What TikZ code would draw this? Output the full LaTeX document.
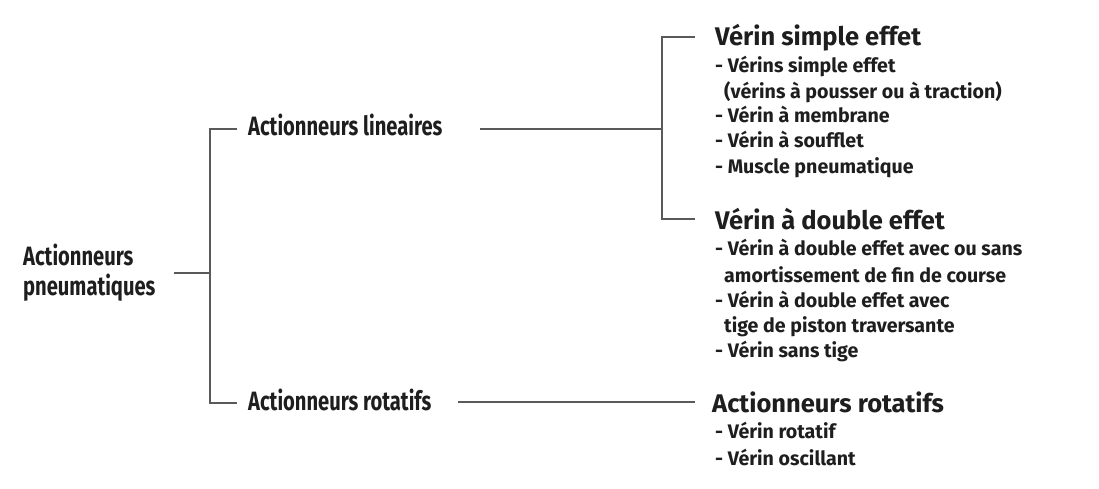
\documentclass[tikz,border=0pt]{standalone}
\usepackage{fontspec}
\setmainfont{Fira Sans}
\newfontfamily\condfont[FakeStretch=0.76]{Fira Sans}
\definecolor{ink}{HTML}{1E1E1E}
\definecolor{wirec}{HTML}{5A5A5A}
\begin{document}
\begin{tikzpicture}[x=1pt,y=-1pt,
  lvlone/.style={font=\condfont\bfseries\fontsize{26.5}{30}\selectfont, text=ink, inner sep=0pt},
  head/.style={font=\bfseries\fontsize{25.5}{30}\selectfont, text=ink, inner sep=0pt, anchor=base west},
  item/.style={font=\bfseries\fontsize{19.6}{25}\selectfont, text=ink, inner sep=0pt, anchor=base west},
  wire/.style={draw=wirec, line width=2pt}]
\fill[white] (0,0) rectangle (1099,488);
\useasboundingbox (0,0) rectangle (1099,488);

% level one
\node[lvlone, align=left, anchor=west] (pn) at (23,273) {Actionneurs\\pneumatiques};
\node[lvlone, anchor=base west] (al) at (248,135) {Actionneurs lineaires};
\node[lvlone, anchor=base west] (ar) at (248,410) {Actionneurs rotatifs};

% headings
\node[head] (hs) at (715,45) {Vérin simple effet};
\node[head] (hd) at (715,229) {Vérin à double effet};
\node[head] (hr) at (712,412) {Actionneurs rotatifs};

% items simple
\node[item] (s1) at (715,72) {- Vérins simple effet};
\node[item] (s2) at (724,98) {(vérins à pousser ou à traction)};
\node[item] (s3) at (715,122) {- Vérin à membrane};
\node[item] (s4) at (715,147) {- Vérin à soufflet};
\node[item] (s5) at (715,173) {- Muscle pneumatique};
% items double
\node[item] (d1) at (715,255) {- Vérin à double effet avec ou sans};
\node[item] (d2) at (724,282) {amortissement de fin de course};
\node[item] (d3) at (715,307) {- Vérin à double effet avec};
\node[item] (d4) at (724,332) {tige de piston traversante};
\node[item] (d5) at (715,357) {- Vérin sans tige};
% items rotatifs
\node[item] (r1) at (715,438) {- Vérin rotatif};
\node[item] (r2) at (715,465) {- Vérin oscillant};

% connector ends
\coordinate (pnR) at (174,273);
\coordinate (j1) at (210,273);
\coordinate (alL) at (237,129);
\coordinate (arL) at (237,403);
\coordinate (alR) at (480,129);
\coordinate (j2) at (662,129);
\coordinate (hsL) at (695,37);
\coordinate (hdL) at (695,219);
\coordinate (arR) at (458,402);
\coordinate (hrL) at (695,402);

\draw[wire] (pnR) -- (j1);
\draw[wire] (alL) -| (j1) |- (arL);
\draw[wire] (alR) -- (j2);
\draw[wire] (hsL) -| (j2) |- (hdL);
\draw[wire] (arR) -- (hrL);
\end{tikzpicture}
\end{document}
